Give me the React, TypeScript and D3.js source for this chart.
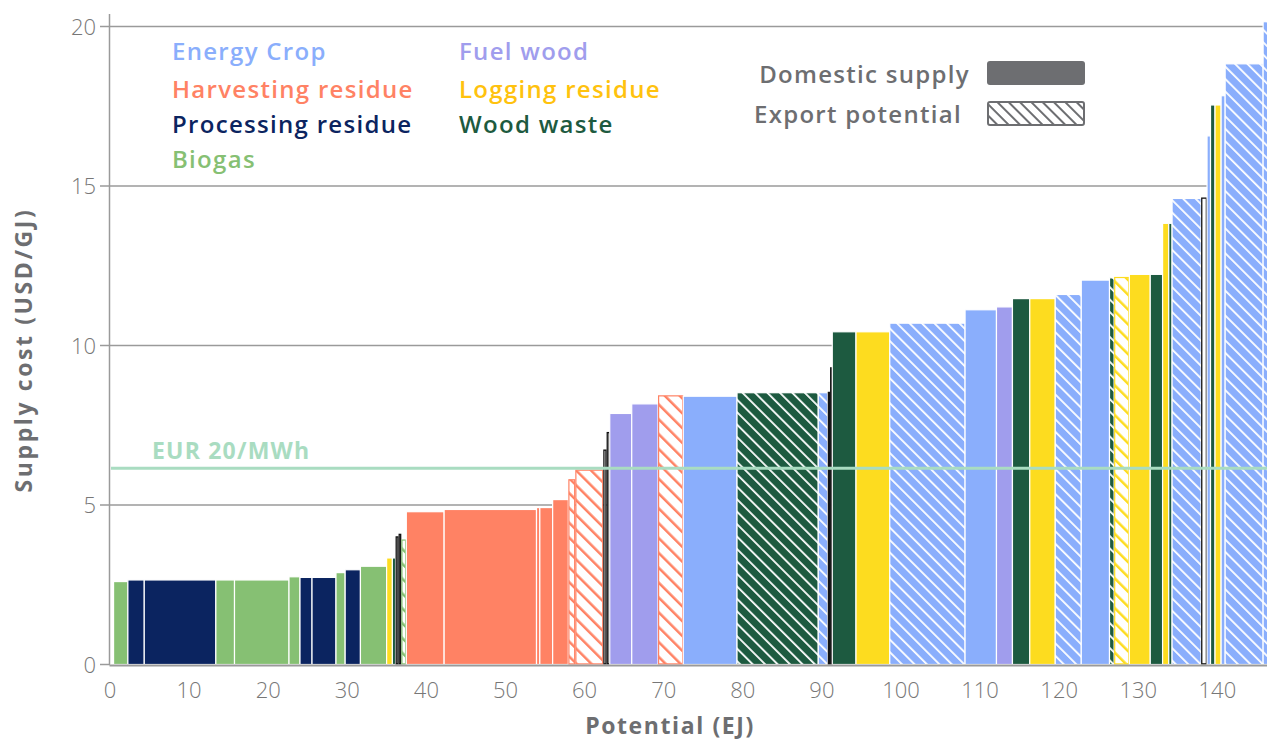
import React from 'react'
import * as d3 from 'd3'

// categories (legend order)
const categories = ['crop', 'harv', 'proc', 'bio', 'fuel', 'log', 'waste']
const categoryLabels = ['Energy Crop', 'Harvesting residue', 'Processing residue', 'Biogas', 'Fuel wood', 'Logging residue', 'Wood waste']
const categoryColors = ['#8aaefc', '#ff8264', '#0b2460', '#86c073', '#a09ded', '#fddc1f', '#1d5a40']
const labelColors = ['#8aaefc', '#ff8264', '#0b2460', '#86c073', '#a09ded', '#ffc20e', '#1d5a40']

// supply curve steps, left to right
const startOffset = 0.45
const barCategory = [
  'bio', 'proc', 'proc', 'bio', 'bio', 'bio', 'proc', 'proc', 'bio', 'proc', 'bio', 'log', 'waste', 'proc', 'proc', 'bio',
  'harv', 'harv', 'harv', 'harv', 'harv', 'harv', 'harv', 'proc', 'proc', 'fuel', 'fuel', 'harv', 'crop', 'waste', 'crop',
  'proc', 'proc', 'waste', 'log', 'crop', 'crop', 'fuel', 'waste', 'log', 'crop', 'crop', 'waste', 'log', 'log', 'waste',
  'log', 'waste', 'crop', 'proc', 'crop', 'waste', 'log', 'crop', 'crop', 'crop'
]
const barPotential = [
  1.81, 2.07, 9.05, 2.36, 6.89, 1.39, 1.52, 3.03, 1.16, 1.93, 3.31, 0.73, 0.4, 0.38, 0.35, 0.63,
  4.78, 11.68, 0.42, 1.62, 1.98, 0.88, 3.54, 0.42, 0.4, 2.78, 3.32, 3.19, 6.8, 10.27, 1.2,
  0.29, 0.28, 3.0, 4.27, 9.52, 3.97, 2.02, 2.19, 3.22, 3.29, 3.57, 0.58, 1.93, 2.64, 1.56,
  0.78, 0.42, 3.67, 0.75, 0.44, 0.57, 0.77, 0.51, 4.8, 2.0
]
const barCost = [
  2.6, 2.65, 2.65, 2.65, 2.65, 2.75, 2.73, 2.73, 2.88, 2.97, 3.08, 3.34, 3.34, 4.02, 4.1, 3.92,
  4.79, 4.86, 4.92, 4.92, 5.17, 5.81, 6.11, 6.74, 7.29, 7.87, 8.17, 8.44, 8.41, 8.52, 8.52,
  8.55, 9.32, 10.43, 10.43, 10.7, 11.12, 11.21, 11.47, 11.47, 11.6, 12.05, 12.12, 12.15, 12.23, 12.23,
  13.83, 13.83, 14.61, 14.64, 16.57, 17.54, 17.54, 17.83, 18.83, 20.15
]
const barExport = [
  0, 0, 0, 0, 0, 0, 0, 0, 0, 0, 0, 0, 0, 1, 1, 1,
  0, 0, 0, 0, 0, 1, 1, 1, 1, 0, 0, 1, 0, 1, 1,
  1, 1, 0, 0, 1, 0, 0, 0, 0, 1, 0, 1, 1, 0, 0,
  0, 0, 1, 1, 0, 0, 0, 0, 1, 1
]

const yTicks = [0, 5, 10, 15, 20]
const xTicks = [0, 10, 20, 30, 40, 50, 60, 70, 80, 90, 100, 110, 120, 130, 140]
const eurLine = 6.15
const eurLabel = 'EUR 20/MWh'

const W = 1267
const H = 743
const FONT = '"Open Sans", Lato, sans-serif'
const GREY = '#6d6e71'

// categories whose export bars are colour with white stripes
const denseHatch = ['crop', 'waste']

const App = () => {
  const x = d3.scaleLinear().domain([0, 140]).range([110, 1217.4])
  const y = d3.scaleLinear().domain([0, 20]).range([664.5, 26.5])
  const color = d3.scaleOrdinal<string, string>().domain(categories).range(categoryColors)

  const starts = barPotential.map((_, i) => startOffset + d3.sum(barPotential.slice(0, i)))

  const patterns = categories.map((c) => {
    const col = color(c)
    const dense = denseHatch.includes(c)
    const size = dense ? 8.8 : 10.5
    return (
      <pattern
        key={c}
        id={`hatch-${c}`}
        patternUnits="userSpaceOnUse"
        width={size}
        height={size}
        patternTransform="rotate(-45)"
      >
        <rect width={size} height={size} fill={dense ? col : '#fff'} />
        <line x1={0} y1={0} x2={0} y2={size} stroke={dense ? '#fff' : col} strokeWidth={dense ? 3.6 : 5} />
      </pattern>
    )
  })

  const bars = barCategory.map((c, i) => {
    const x0 = x(starts[i])
    const x1 = x(starts[i] + barPotential[i])
    const top = y(barCost[i])
    const col = color(c)
    const exp = barExport[i] === 1
    if (!exp) {
      return (
        <rect key={i} x={x0} y={top} width={x1 - x0} height={y(0) - top} fill={col} stroke="#fff" strokeWidth={1.2} />
      )
    }
    const dense = denseHatch.includes(c)
    if (dense) {
      return (
        <rect key={i} x={x0} y={top} width={x1 - x0} height={y(0) - top} fill={`url(#hatch-${c})`} stroke="#fff" strokeWidth={1.2} />
      )
    }
    const sw = c === 'proc' ? 1.3 : 1.2
    return (
      <rect
        key={i}
        x={x0 + sw / 2}
        y={top + sw / 2}
        width={Math.max(0.5, x1 - x0 - sw)}
        height={y(0) - top - sw}
        fill={c === 'proc' ? '#fff' : `url(#hatch-${c})`}
        stroke={c === 'proc' ? '#111' : col}
        strokeWidth={sw}
      />
    )
  })

  const legendRows = categories.map((c, i) => {
    const col = i < 4 ? 0 : 1
    const row = i < 4 ? i : i - 4
    const rowY = [60, 98, 133, 168]
    return (
      <text
        key={c}
        x={col === 0 ? 172 : 459}
        y={rowY[row]}
        fill={labelColors[i]}
        fontSize={24}
        fontWeight={600}
        letterSpacing={1.3}
      >
        {categoryLabels[i]}
      </text>
    )
  })

  return (
    <svg width={W} height={H} style={{ position: 'absolute', left: 0, top: 0 }} fontFamily={FONT}>
      <defs>
        {patterns}
        <pattern id="hatch-legend" patternUnits="userSpaceOnUse" width={8} height={8} patternTransform="rotate(-45)">
          <rect width={8} height={8} fill="#fff" />
          <line x1={0} y1={0} x2={0} y2={8} stroke={GREY} strokeWidth={4} />
        </pattern>
        <clipPath id="plot-clip">
          <rect x={0} y={0} width={W} height={665} />
        </clipPath>
      </defs>

      {/* grid */}
      {yTicks.filter((t) => t > 0).map((t) => (
        <line key={t} x1={x(0)} x2={W} y1={y(t)} y2={y(t)} stroke="#9a9a9a" strokeWidth={1.5} />
      ))}

      <g clipPath="url(#plot-clip)">{bars}</g>

      {/* EUR 20/MWh reference */}
      <line x1={x(0) + 1} x2={W} y1={y(eurLine)} y2={y(eurLine)} stroke="#a9dcc1" strokeWidth={3} />
      <text x={152} y={y(eurLine) - 9} fill="#a9dcc1" fontSize={23} fontWeight={700} letterSpacing={1.2}>
        {eurLabel}
      </text>

      {/* axes */}
      <line x1={x(0) - 0.5} x2={x(0) - 0.5} y1={14} y2={y(0)} stroke="#9a9a9a" strokeWidth={1.5} />
      <line x1={x(0) - 0.5} x2={W} y1={y(0) + 1} y2={y(0) + 1} stroke="#9a9a9a" strokeWidth={2} />
      {yTicks.map((t) => (
        <g key={t}>
          <line x1={x(0) - 10} x2={x(0)} y1={y(t)} y2={y(t)} stroke="#9a9a9a" strokeWidth={1.5} />
          <text x={x(0) - 14} y={y(t) + 8} textAnchor="end" fill="#777" fontSize={22} fontWeight={300}>
            {t}
          </text>
        </g>
      ))}
      {xTicks.map((t) => (
        <text key={t} x={x(t)} y={698} textAnchor="middle" fill="#777" fontSize={22} fontWeight={300}>
          {t}
        </text>
      ))}

      <text x={670} y={734} textAnchor="middle" fill={GREY} fontSize={23} fontWeight={700} letterSpacing={1.6}>
        Potential (EJ)
      </text>
      <text
        transform={`translate(32,350) rotate(-90)`}
        textAnchor="middle"
        fill={GREY}
        fontSize={23}
        fontWeight={700}
        letterSpacing={2.6}
      >
        Supply cost (USD/GJ)
      </text>

      {legendRows}

      <text x={970} y={83} textAnchor="end" fill={GREY} fontSize={24} fontWeight={600} letterSpacing={1.3}>
        Domestic supply
      </text>
      <rect x={987} y={61} width={98} height={24} rx={3} fill={GREY} />
      <text x={962} y={123} textAnchor="end" fill={GREY} fontSize={24} fontWeight={600} letterSpacing={1.3}>
        Export potential
      </text>
      <rect x={988} y={102} width={96} height={23} rx={2} fill="url(#hatch-legend)" stroke={GREY} strokeWidth={2} />
    </svg>
  )
}

export default App
